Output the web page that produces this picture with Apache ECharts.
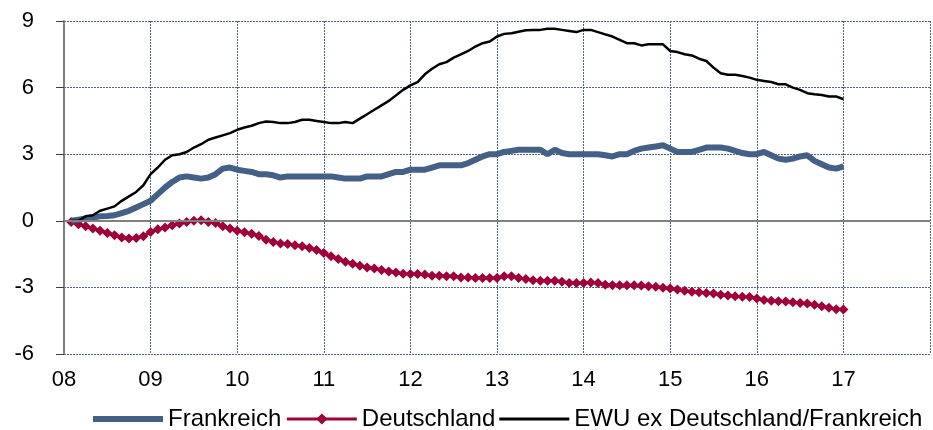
<!DOCTYPE html>
<html>
<head>
<meta charset="utf-8">
<script src="https://cdn.jsdelivr.net/npm/echarts@6/dist/echarts.min.js"></script>
<style>
html, body { margin: 0; padding: 0; background: #fff; }
#chart { width: 933px; height: 430px; }
</style>
</head>
<body>
<div id="chart"></div>
<script type="text/javascript">
// Monatswerte, Feb 2008 bis Jan 2017
var seriesNames = ['Frankreich', 'Deutschland', 'EWU ex Deutschland/Frankreich'];
var startYear = 2008;
var startMonth = 1; // Februar (0 = Januar)

var frankreich = [
    0.0, 0.05, 0.1, 0.15, 0.2, 0.22, 0.25, 0.35, 0.45, 0.6, 0.75, 0.9,
    1.2, 1.5, 1.75, 1.95, 2.0, 1.95, 1.9, 1.95, 2.1, 2.35, 2.4, 2.3,
    2.25, 2.2, 2.1, 2.1, 2.05, 1.95, 2.0, 2.0, 2.0, 2.0, 2.0, 2.0,
    2.0, 1.95, 1.9, 1.9, 1.9, 2.0, 2.0, 2.0, 2.1, 2.2, 2.2, 2.3,
    2.3, 2.3, 2.4, 2.5, 2.5, 2.5, 2.5, 2.6, 2.75, 2.9, 3.0, 3.0,
    3.1, 3.15, 3.2, 3.2, 3.2, 3.2, 3.0, 3.2, 3.05, 3.0, 3.0, 3.0,
    3.0, 3.0, 2.95, 2.9, 3.0, 3.0, 3.15, 3.25, 3.3, 3.35, 3.4, 3.25,
    3.1, 3.1, 3.1, 3.2, 3.3, 3.3, 3.3, 3.25, 3.15, 3.05, 3.0, 3.0,
    3.1, 2.95, 2.8, 2.75, 2.8, 2.9, 2.95, 2.7, 2.55, 2.4, 2.35, 2.45
];
var deutschland = [
    -0.05, -0.15, -0.25, -0.35, -0.45, -0.55, -0.65, -0.75, -0.8, -0.78, -0.7, -0.5,
    -0.38, -0.3, -0.2, -0.12, -0.05, 0.0, 0.02, -0.05, -0.1, -0.25, -0.35, -0.45,
    -0.52, -0.58, -0.68, -0.85, -0.95, -1.02, -1.05, -1.1, -1.15, -1.22, -1.32, -1.45,
    -1.6, -1.72, -1.85, -1.93, -2.03, -2.1, -2.15, -2.22, -2.28, -2.33, -2.38, -2.4,
    -2.4, -2.42, -2.48, -2.48, -2.5, -2.5, -2.55, -2.55, -2.58, -2.58, -2.58, -2.58,
    -2.5, -2.5, -2.58, -2.62, -2.68, -2.7, -2.7, -2.7, -2.75, -2.8, -2.8, -2.8,
    -2.78, -2.8, -2.88, -2.9, -2.9, -2.9, -2.9, -2.92, -2.95, -2.97, -3.02, -3.05,
    -3.1, -3.15, -3.2, -3.22, -3.25, -3.28, -3.33, -3.36, -3.4, -3.42, -3.43, -3.5,
    -3.57, -3.6, -3.62, -3.64, -3.67, -3.7, -3.72, -3.78, -3.85, -3.92, -3.98, -4.0
];
var ewu = [
    0.0, 0.0, 0.2, 0.25, 0.45, 0.55, 0.65, 0.9, 1.1, 1.3, 1.6, 2.1,
    2.4, 2.75, 2.95, 3.0, 3.1, 3.3, 3.45, 3.65, 3.75, 3.85, 3.95, 4.1,
    4.2, 4.28, 4.4, 4.47, 4.45, 4.4, 4.4, 4.45, 4.55, 4.55, 4.5, 4.45,
    4.4, 4.4, 4.45, 4.4, 4.6, 4.8, 5.0, 5.2, 5.4, 5.65, 5.9, 6.1,
    6.25, 6.6, 6.85, 7.05, 7.15, 7.35, 7.5, 7.65, 7.85, 8.0, 8.08, 8.3,
    8.42, 8.45, 8.52, 8.58, 8.6, 8.6, 8.65, 8.65, 8.6, 8.55, 8.5, 8.6,
    8.6, 8.5, 8.4, 8.3, 8.15, 8.0, 8.0, 7.9, 7.95, 7.95, 7.95, 7.65,
    7.6, 7.5, 7.45, 7.3, 7.2, 6.9, 6.65, 6.58, 6.58, 6.52, 6.45, 6.35,
    6.3, 6.25, 6.15, 6.15, 6.0, 5.9, 5.75, 5.7, 5.67, 5.6, 5.6, 5.48
];

function toPoints(values) {
    return values.map(function (v, i) {
        return [startYear + (startMonth + i) / 12, v];
    });
}

var gridLine = { color: '#4f6386', type: [2, 1], width: 1 };
var font = 'Liberation Sans, Arial, sans-serif';
var blau = '#446086';
var rot = '#A0003A';

var chart = echarts.init(document.getElementById('chart'));
chart.setOption({
    animation: false,
    textStyle: { fontFamily: font },
    grid: { left: 64, right: -1, top: 21, bottom: 76 },
    legend: {
        left: 88,
        top: 402,
        width: 900,
        itemWidth: 70,
        itemHeight: 14,
        itemGap: 4,
        textStyle: { fontSize: 24, color: '#000', fontFamily: font },
        data: [
            { name: seriesNames[0], icon: 'path://M0,0L70,0L70,6L0,6Z' },
            { name: seriesNames[1], lineStyle: { width: 3 } },
            { name: seriesNames[2], icon: 'path://M0,0L70,0L70,3L0,3Z' }
        ]
    },
    xAxis: {
        type: 'value',
        min: 2008,
        max: 2018,
        interval: 1,
        axisLine: { show: false },
        axisTick: { show: false },
        axisLabel: {
            fontSize: 22,
            color: '#000',
            margin: 15,
            formatter: function (v) {
                return v < 2018 ? String(v).slice(2) : '';
            }
        },
        splitLine: { show: true, lineStyle: gridLine }
    },
    yAxis: {
        type: 'value',
        min: -6,
        max: 9,
        interval: 3,
        axisLine: { show: true, lineStyle: { color: '#808080', width: 2 } },
        axisTick: { show: true, length: 8, lineStyle: { color: '#404040', width: 1 } },
        axisLabel: { fontSize: 22, color: '#000', margin: 30 },
        splitLine: { show: true, lineStyle: gridLine }
    },
    series: [
        {
            name: seriesNames[0],
            type: 'line',
            data: toPoints(frankreich),
            showSymbol: false,
            symbol: 'none',
            lineStyle: { color: blau, width: 6 },
            itemStyle: { color: blau },
            markLine: {
                silent: true,
                symbol: 'none',
                label: { show: false },
                lineStyle: { color: '#808080', type: 'solid', width: 2 },
                data: [{ yAxis: 0 }]
            },
            z: 3
        },
        {
            name: seriesNames[1],
            type: 'line',
            data: toPoints(deutschland),
            symbol: 'diamond',
            symbolSize: 10,
            lineStyle: { color: rot, width: 3 },
            itemStyle: { color: rot },
            z: 2
        },
        {
            name: seriesNames[2],
            type: 'line',
            data: toPoints(ewu),
            showSymbol: false,
            symbol: 'none',
            lineStyle: { color: '#000', width: 2.5 },
            itemStyle: { color: '#000' },
            z: 4
        }
    ]
});
</script>
</body>
</html>
